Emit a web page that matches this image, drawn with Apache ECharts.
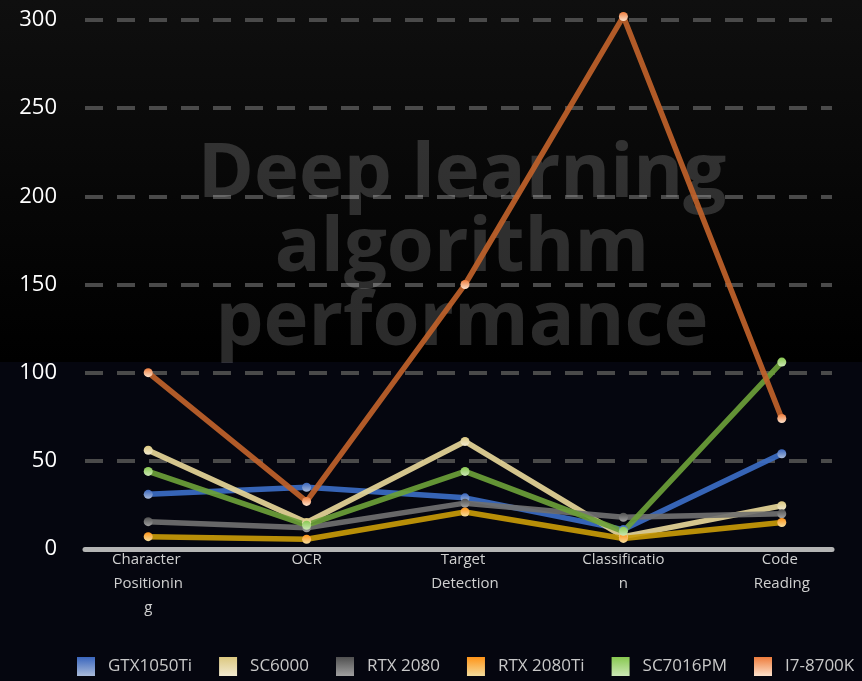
<!DOCTYPE html>
<html>
<head>
<meta charset="utf-8">
<script src="https://cdn.jsdelivr.net/npm/echarts@6/dist/echarts.min.js"></script>
<style>
html,body{margin:0;padding:0;width:862px;height:681px;overflow:hidden;
background:linear-gradient(to bottom,#0f0f0f 0px,#000000 362px,#05060f 362px,#05060f 681px);}
#chart{width:862px;height:681px;}
</style>
</head>
<body>
<div id="chart"></div>
<script>
// ---- data ----
var categories = ['Character Positioning', 'OCR', 'Target Detection', 'Classification', 'Code Reading'];
var seriesNames = ['GTX1050Ti', 'SC6000', 'RTX 2080', 'RTX 2080Ti', 'SC7016PM', 'I7-8700K'];
var gtx1050ti = [31, 35, 29, 11, 54];
var sc6000 = [56, 15, 61, 7, 24.5];
var rtx2080 = [15.5, 12, 26, 18, 20];
var rtx2080ti = [7, 5.5, 21, 6, 15];
var sc7016pm = [44, 13.5, 44, 10, 106];
var i78700k = [100, 27, 150, 302, 74];
var yTicks = [0, 50, 100, 150, 200, 250, 300];
var titleText = 'Deep learning\nalgorithm\nperformance';

// ---- styles ----
var seriesValues = [gtx1050ti, sc6000, rtx2080, rtx2080ti, sc7016pm, i78700k];
var lineColors = ['#3b6cc4', '#e6d698', '#707070', '#c89a08', '#6b9f38', '#c0622a'];
var iconTop = ['#3a66bd', '#dcc880', '#505050', '#ff9418', '#88c850', '#ee7c3c'];
var iconBottom = ['#aabbda', '#f2ead0', '#a0a0a0', '#f4dc9c', '#cce8b6', '#fde2cc'];
var labelWidths = [73, 85, 85, 85, 85];

var chart = echarts.init(document.getElementById('chart'), null, {renderer: 'canvas'});

var series = seriesNames.map(function (name, i) {
  return {
    name: name,
    type: 'line',
    xAxisIndex: 0,
    yAxisIndex: 0,
    data: seriesValues[i],
    symbol: 'circle',
    symbolSize: 9,
    clip: false,
    lineStyle: {color: lineColors[i], width: 5.5, opacity: 0.92},
    itemStyle: {
      color: new echarts.graphic.LinearGradient(0, 0, 0, 1, [
        {offset: 0, color: iconTop[i]},
        {offset: 1, color: iconBottom[i]}
      ])
    },
    emphasis: {disabled: true}
  };
});

var option = {
  animation: false,
  title: {
    text: titleText,
    left: 457,
    top: 133,
    textAlign: 'center',
    z: 1,
    textStyle: {
      fontFamily: 'Open Sans',
      fontWeight: 'bold',
      fontSize: 76,
      lineHeight: 74,
      color: 'rgba(255,255,255,0.17)'
    }
  },
  legend: {
    data: seriesNames,
    left: 72,
    top: 652,
    width: 820,
    icon: 'rect',
    itemWidth: 18,
    itemHeight: 19,
    itemGap: 27,
    textStyle: {color: '#c8c8c8', fontSize: 17, fontFamily: 'Open Sans', padding: [0, 0, 0, 8]}
  },
  grid: [
    {left: 69, right: 1, top: 20, bottom: 132},
    {left: 85, right: 30, top: 20, bottom: 132}
  ],
  xAxis: [
    {
      type: 'category',
      gridIndex: 0,
      boundaryGap: true,
      data: categories.map(function (c, i) {
        return {value: c, textStyle: {width: labelWidths[i], overflow: 'break'}};
      }),
      axisLine: {show: false},
      axisTick: {show: false},
      axisLabel: {
        interval: 0,
        margin: -1,
        color: '#d0d0d0',
        fontSize: 15,
        lineHeight: 24,
        fontFamily: 'Open Sans',
        overflow: 'break',
        width: 85
      }
    },
    {
      type: 'category',
      gridIndex: 1,
      data: categories,
      axisLine: {show: true, lineStyle: {color: '#b4b4b4', width: 5}},
      axisTick: {show: false},
      axisLabel: {show: false}
    }
  ],
  yAxis: [
    {
      type: 'value',
      gridIndex: 0,
      min: yTicks[0],
      max: yTicks[yTicks.length - 1],
      interval: 50,
      axisLine: {show: false},
      axisTick: {show: false},
      axisLabel: {show: false},
      splitLine: {show: false}
    },
    {
      type: 'value',
      gridIndex: 1,
      min: yTicks[0],
      max: yTicks[yTicks.length - 1],
      interval: 50,
      axisLine: {show: false},
      axisTick: {show: false},
      axisLabel: {color: '#ffffff', fontSize: 22, margin: 28, fontFamily: 'Open Sans'},
      splitLine: {show: true, lineStyle: {color: '#4a4a4a', width: 4, type: [18, 14]}}
    }
  ],
  series: series
};
chart.setOption(option);
</script>
</body>
</html>
